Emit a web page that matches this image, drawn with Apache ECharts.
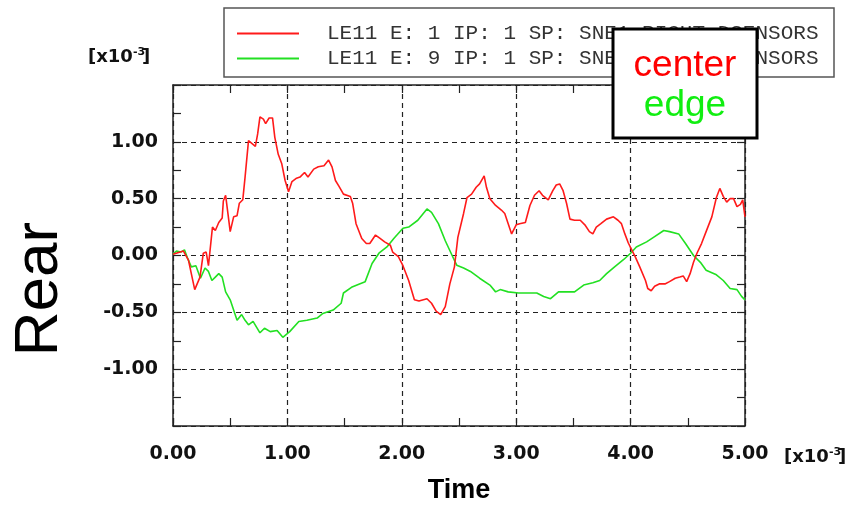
<!DOCTYPE html>
<html>
<head>
<meta charset="utf-8">
<script src="https://cdn.jsdelivr.net/npm/echarts@6/dist/echarts.min.js"></script>
<style>html,body{margin:0;padding:0;background:#fff}#c{width:848px;height:511px}</style>
</head>
<body>
<div id="c"></div>
<script>
var seriesNames = ['LE11 E: 1 IP: 1 SP: SNE1 RIGHT DSENSORS', 'LE11 E: 9 IP: 1 SP: SNE1 RIGHT DSENSORS'];
var boxLabels = ['center', 'edge'];
var yTicks = [-1.5, -1.0, -0.5, 0.0, 0.5, 1.0, 1.5];
var xTicks = [0, 1, 2, 3, 4, 5];

var timeCenter = [0.00,0.09,0.135,0.19,0.20,0.236,0.265,0.29,0.31,0.32,0.345,0.37,0.40,0.43,0.44,0.46,0.48,0.50,0.53,0.56,0.58,0.61,0.63,0.66,0.72,0.74,0.76,0.79,0.81,0.84,0.87,0.89,0.92,0.95,0.98,1.01,1.04,1.08,1.11,1.15,1.18,1.23,1.27,1.32,1.36,1.39,1.42,1.45,1.49,1.55,1.57,1.60,1.65,1.69,1.72,1.77,1.81,1.85,1.90,1.92,1.97,2.01,2.06,2.11,2.15,2.22,2.26,2.30,2.34,2.38,2.42,2.46,2.49,2.54,2.57,2.61,2.65,2.68,2.72,2.74,2.77,2.82,2.87,2.90,2.93,2.96,3.00,3.03,3.08,3.12,3.16,3.20,3.23,3.28,3.32,3.35,3.38,3.41,3.44,3.47,3.51,3.56,3.60,3.64,3.67,3.70,3.74,3.79,3.85,3.89,3.92,3.95,3.98,4.01,4.04,4.08,4.13,4.15,4.18,4.21,4.25,4.30,4.34,4.39,4.43,4.46,4.49,4.52,4.55,4.58,4.62,4.66,4.71,4.75,4.78,4.81,4.84,4.87,4.90,4.93,4.96,4.98,5.00];
var center = [0.01,0.04,-0.04,-0.30,-0.31,-0.19,0.02,0.03,-0.09,-0.08,0.25,0.22,0.29,0.33,0.48,0.53,0.37,0.21,0.34,0.35,0.46,0.49,0.69,1.01,0.96,1.07,1.22,1.20,1.16,1.21,1.21,1.04,0.89,0.81,0.66,0.56,0.65,0.68,0.69,0.73,0.69,0.76,0.78,0.79,0.84,0.78,0.66,0.61,0.54,0.52,0.46,0.28,0.15,0.105,0.105,0.18,0.15,0.12,0.09,0.03,-0.01,-0.09,-0.22,-0.39,-0.40,-0.38,-0.42,-0.49,-0.52,-0.45,-0.25,-0.10,0.16,0.37,0.51,0.54,0.60,0.63,0.70,0.60,0.50,0.44,0.40,0.37,0.28,0.19,0.27,0.28,0.29,0.44,0.53,0.57,0.53,0.49,0.57,0.62,0.63,0.57,0.46,0.32,0.31,0.31,0.27,0.21,0.19,0.25,0.28,0.32,0.34,0.31,0.28,0.19,0.11,0.05,-0.01,-0.10,-0.22,-0.29,-0.31,-0.27,-0.25,-0.25,-0.23,-0.20,-0.19,-0.18,-0.23,-0.16,-0.06,0.02,0.105,0.21,0.34,0.51,0.59,0.52,0.47,0.50,0.50,0.43,0.45,0.49,0.34];

var timeEdge = [0.00,0.03,0.07,0.10,0.13,0.16,0.20,0.24,0.28,0.31,0.34,0.37,0.40,0.43,0.46,0.50,0.53,0.56,0.60,0.63,0.66,0.70,0.76,0.80,0.85,0.91,0.96,1.02,1.10,1.17,1.26,1.31,1.40,1.47,1.49,1.56,1.63,1.68,1.74,1.80,1.87,1.93,2.01,2.06,2.14,2.22,2.26,2.32,2.38,2.44,2.48,2.54,2.60,2.68,2.77,2.82,2.86,2.93,3.02,3.09,3.18,3.24,3.30,3.37,3.44,3.51,3.59,3.67,3.73,3.79,3.86,3.94,4.00,4.05,4.14,4.20,4.29,4.34,4.42,4.48,4.55,4.61,4.66,4.75,4.81,4.87,4.93,4.97,5.00];
var edge = [0.01,0.04,0.03,0.05,-0.03,-0.10,-0.09,-0.20,-0.11,-0.14,-0.22,-0.19,-0.16,-0.19,-0.32,-0.39,-0.48,-0.57,-0.52,-0.57,-0.61,-0.58,-0.68,-0.64,-0.67,-0.66,-0.72,-0.67,-0.58,-0.57,-0.55,-0.51,-0.48,-0.42,-0.33,-0.28,-0.25,-0.23,-0.07,0.02,0.075,0.15,0.24,0.25,0.31,0.41,0.38,0.28,0.13,0.00,-0.085,-0.11,-0.14,-0.20,-0.26,-0.32,-0.30,-0.32,-0.33,-0.33,-0.33,-0.36,-0.38,-0.32,-0.32,-0.32,-0.26,-0.24,-0.22,-0.16,-0.10,-0.035,0.02,0.075,0.12,0.16,0.22,0.21,0.19,0.105,0.00,-0.06,-0.13,-0.17,-0.22,-0.29,-0.30,-0.36,-0.39];

function pairs(xs, ys) { return xs.map(function (x, i) { return [x, ys[i]]; }); }

var chart = echarts.init(document.getElementById('c'), null, {renderer: 'canvas'});
var axisCol = '#222';
var labelFont = {fontFamily: 'DejaVu Sans', fontWeight: 'bold', fontSize: 19, color: '#111'};
var gridDash = {type: [5, 4], color: '#222', width: 1.2};
var yMin = yTicks[0], yMax = yTicks[yTicks.length - 1];

function yAx(pos, show) {
  return {
    type: 'value', position: pos, min: yMin, max: yMax, interval: 0.5,
    axisLine: {show: true, onZero: false, lineStyle: {color: axisCol, width: 1.5}},
    axisTick: {show: true, inside: true, length: 8, lineStyle: {color: axisCol, width: 1.2}},
    minorTick: {show: true, splitNumber: 2, length: 8, lineStyle: {color: axisCol, width: 1.2}},
    axisLabel: {show: show, margin: 15, formatter: function (v) {
      return (Math.abs(v) > 1.01) ? '' : v.toFixed(2);
    }, textStyle: labelFont},
    splitLine: {show: show, lineStyle: gridDash}
  };
}
function xAx(pos, show) {
  return {
    type: 'value', position: pos, min: xTicks[0], max: xTicks[xTicks.length - 1], interval: 1,
    axisLine: {show: true, onZero: false, lineStyle: {color: axisCol, width: 1.5}},
    axisTick: {show: true, inside: true, length: 8, lineStyle: {color: axisCol, width: 1.2}},
    minorTick: {show: true, splitNumber: 2, length: 8, lineStyle: {color: axisCol, width: 1.2}},
    axisLabel: {show: show, margin: 19, formatter: function (v) { return v.toFixed(2); }, textStyle: labelFont},
    splitLine: {show: show, lineStyle: gridDash}
  };
}

var option = {
  backgroundColor: '#fff',
  animation: false,
  grid: {left: 173, right: 103, top: 85, bottom: 85, containLabel: false},
  xAxis: [xAx('bottom', true), xAx('top', false)],
  yAxis: [yAx('left', true), yAx('right', false)],
  legend: {
    orient: 'vertical', left: 232, top: 18, itemWidth: 62, itemHeight: 2, itemGap: 4,
    icon: 'rect', selectedMode: false,
    data: seriesNames,
    textStyle: {fontFamily: 'Liberation Mono', fontSize: 21, color: '#333', lineHeight: 20, padding: [0, 0, 0, 23]}
  },
  series: [
    {name: seriesNames[0], type: 'line', xAxisIndex: 0, yAxisIndex: 0, showSymbol: false,
     data: pairs(timeCenter, center), color: '#ff1a1a', lineStyle: {width: 1.6, color: '#ff1a1a'}, z: 3},
    {name: seriesNames[1], type: 'line', xAxisIndex: 0, yAxisIndex: 0, showSymbol: false,
     data: pairs(timeEdge, edge), color: '#22e022', lineStyle: {width: 1.6, color: '#22e022'}, z: 2}
  ],
  graphic: [
    {type: 'rect', z: 1, shape: {x: 224, y: 8, width: 610, height: 69}, style: {fill: 'none', stroke: '#555', lineWidth: 1.5}},
    {type: 'rect', z: 100, shape: {x: 613, y: 29, width: 144, height: 109}, style: {fill: '#fff', stroke: '#000', lineWidth: 3}},
    {type: 'text', z: 101, x: 685, y: 66, style: {text: boxLabels[0], fill: '#ff0000', font: '37px "Liberation Sans", Arial, sans-serif', textAlign: 'center', textVerticalAlign: 'middle'}},
    {type: 'text', z: 101, x: 685, y: 106, style: {text: boxLabels[1], fill: '#11ee11', font: '37px "Liberation Sans", Arial, sans-serif', textAlign: 'center', textVerticalAlign: 'middle'}},
    {type: 'text', z: 101, x: 40, y: 289, rotation: Math.PI / 2, style: {text: 'Rear', fill: '#000', font: '62px "Liberation Sans", Arial, sans-serif', textAlign: 'center', textVerticalAlign: 'middle'}},
    {type: 'text', z: 101, x: 459, y: 491, style: {text: 'Time', fill: '#000', font: 'bold 27px "Liberation Sans", Arial, sans-serif', textAlign: 'center', textVerticalAlign: 'middle'}},
    {type: 'text', z: 101, x: 88, y: 57, style: {
      text: '{a|[x10}{s|-3}{a|]}', textVerticalAlign: 'middle',
      rich: {a: {fontFamily: 'DejaVu Sans', fontWeight: 'bold', fontSize: 18, fill: '#111'},
             s: {fontFamily: 'DejaVu Sans', fontWeight: 'bold', fontSize: 11, fill: '#111', verticalAlign: 'top', padding: [0, -3, 10, 0]}}}},
    {type: 'text', z: 101, x: 784, y: 457, style: {
      text: '{a|[x10}{s|-3}{a|]}', textVerticalAlign: 'middle',
      rich: {a: {fontFamily: 'DejaVu Sans', fontWeight: 'bold', fontSize: 18, fill: '#111'},
             s: {fontFamily: 'DejaVu Sans', fontWeight: 'bold', fontSize: 11, fill: '#111', verticalAlign: 'top', padding: [0, -3, 10, 0]}}}}
  ]
};
chart.setOption(option);
</script>
</body>
</html>
